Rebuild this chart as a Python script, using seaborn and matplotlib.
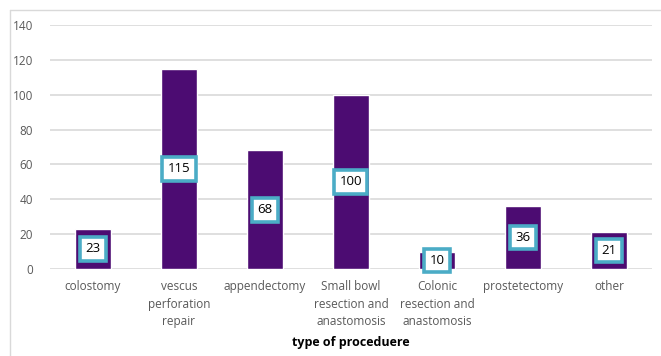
import matplotlib
matplotlib.use("Agg")
import matplotlib.pyplot as plt
import seaborn as sns
import pandas as pd
from matplotlib.lines import Line2D

categories = ["colostomy", "vescus\nperforation\nrepair", "appendectomy",
              "Small bowl\nresection and\nanastomosis", "Colonic\nresection and\nanastomosis",
              "prostetectomy", "other"]
values = [23, 115, 68, 100, 10, 36, 21]
yticks = [0, 20, 40, 60, 80, 100, 120, 140]
xlabel = "type of proceduere"

sns.set_theme(style="white")
plt.rcParams['font.family'] = ['Open Sans', 'DejaVu Sans']

df = pd.DataFrame({"cat": categories, "val": values})
fig = plt.figure(figsize=(6.61, 3.56), dpi=100)
ax = fig.add_axes([0.0756, 0.2444, 0.9107, 0.6854])
sns.barplot(data=df, x="cat", y="val", color="#4c0c72", width=0.41, saturation=1, ax=ax)
ax.set_ylim(0, 140)
ax.set_xlim(-0.5, len(categories) - 0.5)
ax.set_yticks(yticks)
for y in yticks:
    ax.axhline(y, color="#d9d9d9", lw=1.2, zorder=0)
for s in ax.spines.values():
    s.set_visible(False)
ax.tick_params(axis="both", length=0, colors="#595959", labelsize=8.5)
ax.tick_params(axis="y", pad=12)
ax.tick_params(axis="x", pad=8)
for lab in ax.get_xticklabels():
    lab.set_linespacing(1.45)
ax.set_ylabel("")
ax.set_xlabel(xlabel, fontsize=9, fontweight="bold", color="black", labelpad=6)
for i, v in enumerate(values):
    ax.text(i, v / 2, str(v), ha="center", va="center", fontsize=9.5, color="black",
            bbox=dict(boxstyle="square,pad=0.4", fc="white", ec="#4bacc6", lw=2.6))

fig.add_artist(Line2D([10/661, 10/661], [0, 1 - 10/356], color="#d9d9d9", lw=1, transform=fig.transFigure))
fig.add_artist(Line2D([10/661, 1], [1 - 10/356, 1 - 10/356], color="#d9d9d9", lw=1, transform=fig.transFigure))
fig.savefig("out.png", dpi=100)
